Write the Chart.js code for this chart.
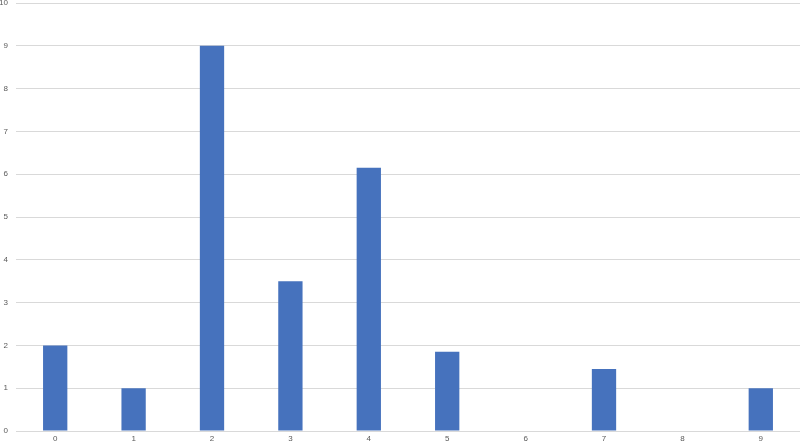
<!DOCTYPE html>
<html>
<head>
<meta charset="utf-8">
<script src="https://cdn.jsdelivr.net/npm/chart.js@4"></script>
<style>
  html, body { margin: 0; padding: 0; background: #ffffff; }
  #wrap { width: 800px; height: 445px; }
</style>
</head>
<body>
<div id="wrap"><canvas id="barChart"></canvas></div>
<script>
// --- Data ---
const categories = ['0', '1', '2', '3', '4', '5', '6', '7', '8', '9'];
const counts = [2, 1, 9, 3.5, 6.15, 1.85, 0, 1.45, 0, 1];
const yTicks = [0, 1, 2, 3, 4, 5, 6, 7, 8, 9, 10];

const labelColor = '#595959';
const gridColor = '#d9d9d9';
const barColor = '#4672bd';

const ctx = document.getElementById('barChart').getContext('2d');
new Chart(ctx, {
    type: 'bar',
    data: {
        labels: categories,
        datasets: [{
            data: counts,
            backgroundColor: barColor,
            borderWidth: 0,
            barPercentage: 0.31,
            categoryPercentage: 1
        }]
    },
    options: {
        responsive: true,
        maintainAspectRatio: false,
        animation: false,
        layout: { padding: { top: 3, right: 0, bottom: 0, left: 0 } },
        plugins: { legend: { display: false }, tooltip: { enabled: false } },
        scales: {
            x: {
                grid: { display: false, drawTicks: false },
                border: { display: false },
                ticks: { color: labelColor, font: { size: 8, family: 'Liberation Sans' }, padding: 3 },
                afterFit: (axis) => { axis.height = 14; }
            },
            y: {
                min: 0,
                max: 10,
                afterBuildTicks: (axis) => { axis.ticks = yTicks.map(v => ({ value: v })); },
                grid: { color: gridColor, lineWidth: 1, drawTicks: false },
                border: { display: false },
                ticks: { color: labelColor, font: { size: 8, family: 'Liberation Sans' }, padding: 8 },
                afterFit: (axis) => { axis.width = 16; axis.paddingTop = 0; axis.paddingBottom = 0; }
            }
        }
    }
});
</script>
</body>
</html>
